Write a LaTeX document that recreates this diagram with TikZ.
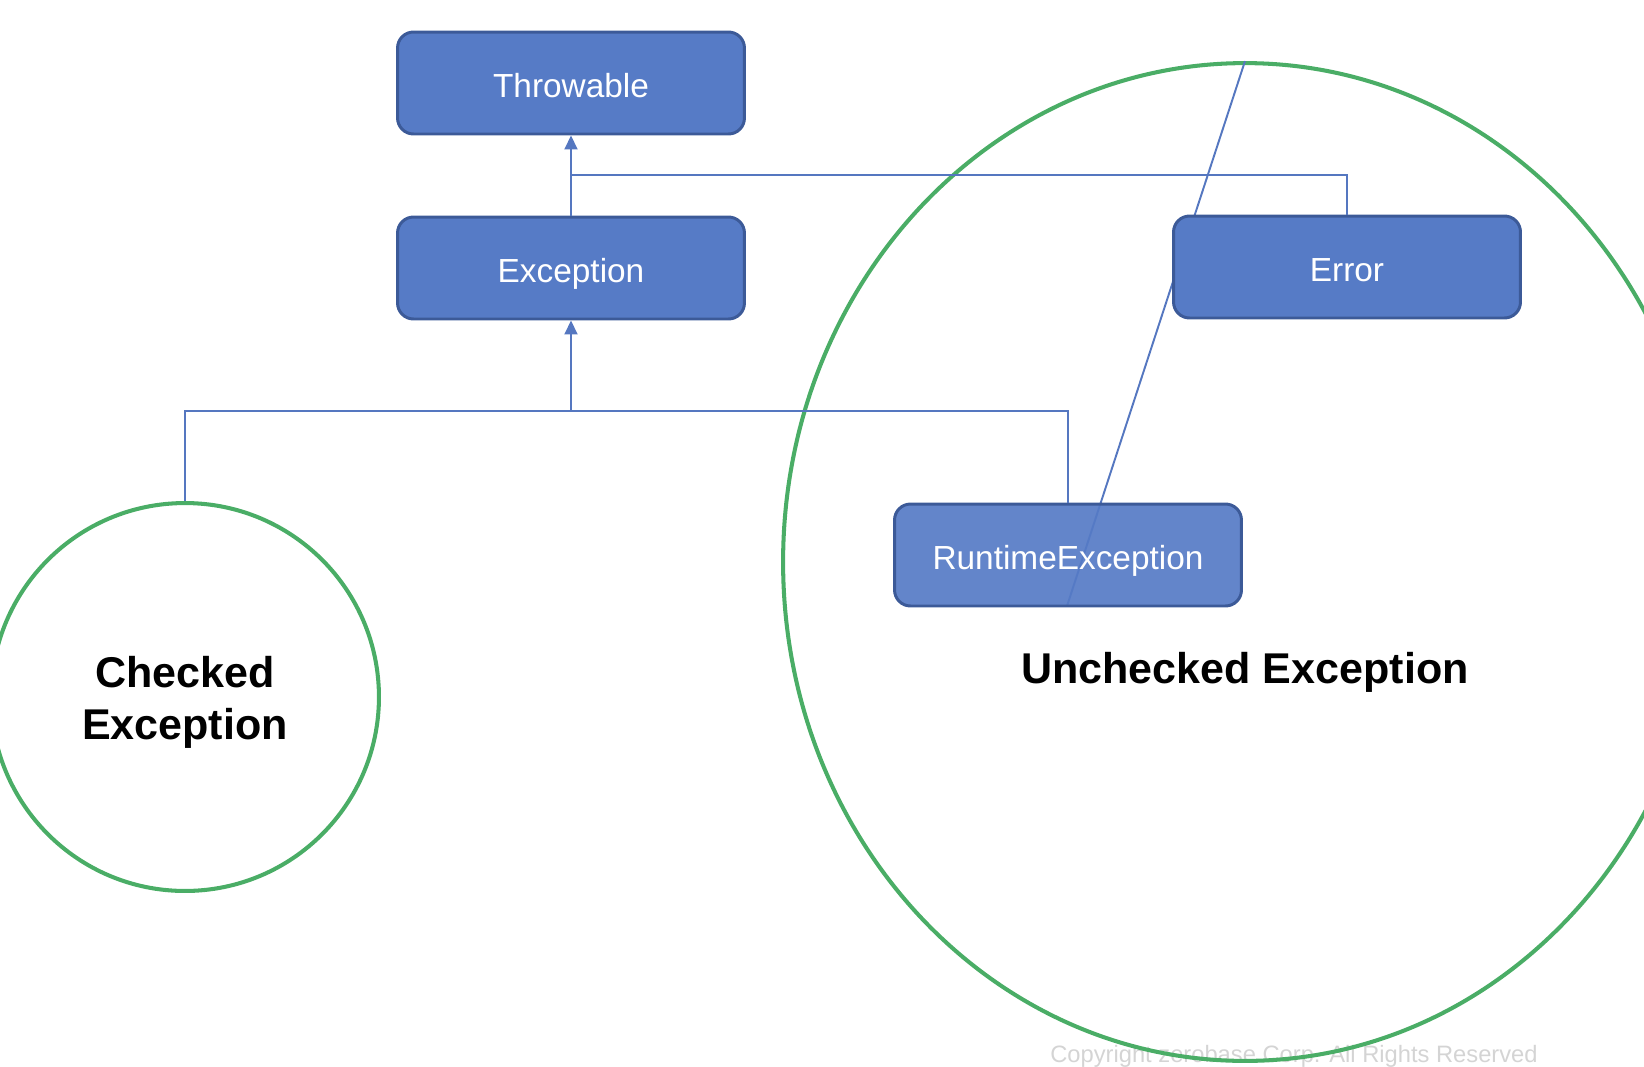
\documentclass[tikz,border=0pt]{standalone}
\usepackage{fontspec}
\setmainfont{Liberation Sans}
\usepackage{tikz}
\usetikzlibrary{arrows.meta,positioning,shapes.geometric}
\definecolor{boxfill}{HTML}{567BC6}
\definecolor{boxline}{HTML}{3C5A98}
\definecolor{linkblue}{HTML}{5577C0}
\definecolor{grpgreen}{HTML}{4AAD66}

\begin{document}
\begin{tikzpicture}[x=0.02cm,y=-0.02cm,
  cls/.style={draw=boxline, line width=1.7pt, fill=boxfill, rounded corners=0.32cm, text=white, font=\fontsize{19}{23}\selectfont, minimum width=6.94cm, minimum height=2.04cm, inner sep=0pt, text height=16.5pt, text depth=0pt},
  grp/.style={draw=grpgreen, line width=2.3pt, fill=none},
  grplabel/.style={font=\bfseries\fontsize{24.5}{29.6}\selectfont, align=center},
  link/.style={linkblue, line width=1.1pt},
  arr/.style={link, -{Triangle[length=2.8mm,width=2.6mm]}}]
  \useasboundingbox (0,0) rectangle (1644,1066);
  \clip (0,0) rectangle (1644,1066);
  % filigrane
  \node[font=\fontsize{13.5}{16}\selectfont, text=black!17] (copy) at (1294,1056) {Copyright zerobase Corp. All Rights Reserved};
  % groupes
  \node[grp, ellipse, minimum width=18.48cm, minimum height=19.96cm] (unchk) at (1245,562) {};
  \node[grp, circle, minimum size=7.76cm] (chk) at (185,697) {};
  \node[grplabel] (chklbl) at ([yshift=-0.11cm]chk.center) {Checked\\Exception};
  \node[grplabel] (unchklbl) at (1245,672) {Unchecked Exception};
  \draw[link] (unchk.north) -- (1067,606) coordinate (rtfoot);
  % classes
  \node[cls] (thr) at (571,83)  {Throwable};
  \node[cls] (exc) at (571,268) {Exception};
  \node[cls] (err) at (1347,267) {Error};
  \node[cls, fill opacity=0.92, text opacity=1] (rt) at (1068,555) {RuntimeException};
  % héritage
  \coordinate (j1) at (571,175);
  \coordinate (j2) at (571,411);
  \draw[arr] (exc.north) -- (thr.south);
  \draw[link] (err.north) |- (j1);
  \draw[arr] (j2) -- (exc.south);
  \draw[link] (chk.north) |- (j2);
  \draw[link] (rt.north) |- (j2);
\end{tikzpicture}
\end{document}
